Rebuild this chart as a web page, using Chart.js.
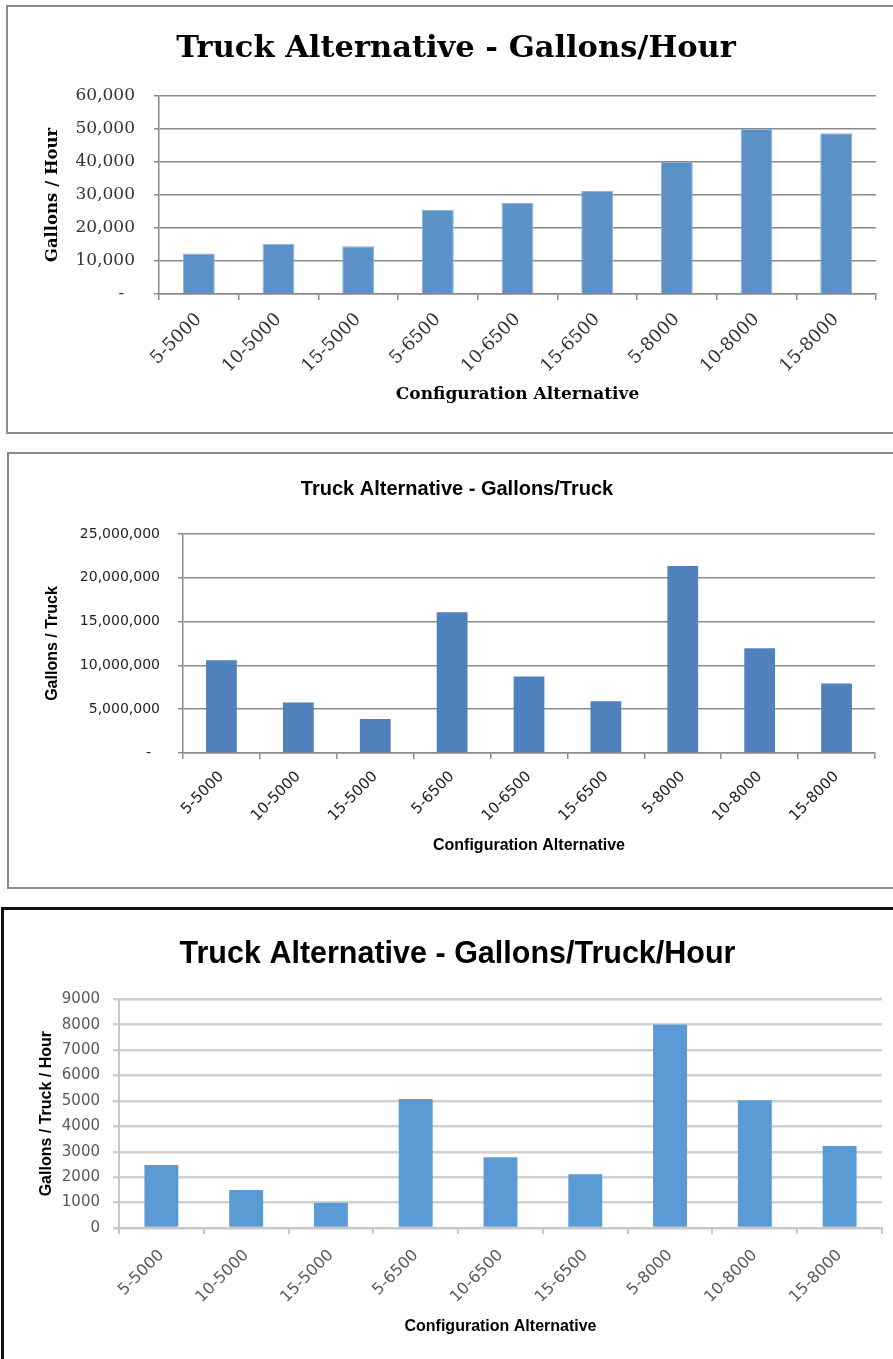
<!DOCTYPE html>
<html>
<head>
<meta charset="utf-8">
<script src="https://cdn.jsdelivr.net/npm/chart.js@4.4.1/dist/chart.umd.min.js"></script>
<style>
  html, body { margin: 0; padding: 0; background: #ffffff; width: 893px; height: 1359px; overflow: hidden; }
  .box { position: absolute; box-sizing: border-box; }
  canvas { position: absolute; left: 0; }
</style>
</head>
<body>
<div class="box" style="left:6px;top:5px;width:900px;height:429px;border:2px solid #8c8c8c;"></div>
<div class="box" style="left:7px;top:452px;width:900px;height:437px;border:2px solid #8c8c8c;"></div>
<div class="box" style="left:1px;top:907px;width:900px;height:470px;border:3px solid #111111;"></div>
<canvas id="c1" width="893" height="423" style="top:10px;"></canvas>
<canvas id="c2" width="893" height="435" style="top:453px;"></canvas>
<canvas id="c3" width="893" height="448" style="top:911px;"></canvas>
<script>
// ---- data ----
const categories = ['5-5000','10-5000','15-5000','5-6500','10-6500','15-6500','5-8000','10-8000','15-8000'];
const gallonsPerHour = [12300, 15200, 14500, 25500, 27600, 31200, 40100, 50000, 48700];
const gallonsPerTruck = [10600000, 5760000, 3890000, 16070000, 8740000, 5920000, 21340000, 11950000, 7940000];
const gallonsPerTruckHour = [2480, 1500, 990, 5080, 2780, 2120, 8010, 5030, 3230];
const titles = ['Truck Alternative - Gallons/Hour', 'Truck Alternative - Gallons/Truck', 'Truck Alternative - Gallons/Truck/Hour'];
const yTitles = ['Gallons / Hour', 'Gallons / Truck', 'Gallons / Truck / Hour'];
const xTitle = 'Configuration Alternative';
const yMax = [60000, 25000000, 9000];
const yStep = [10000, 5000000, 1000];

Chart.defaults.devicePixelRatio = 1;
Chart.defaults.animation = false;

const SANS = "'Liberation Sans', Arial, sans-serif";

function build(id, values, idx, s) {
  return new Chart(document.getElementById(id), {
    type: 'bar',
    data: {
      labels: categories,
      datasets: [{
        data: values,
        backgroundColor: s.barColor,
        borderColor: s.barBorder,
        borderWidth: s.barBorderWidth,
        categoryPercentage: 1.0,
        barPercentage: 0.4
      }]
    },
    options: {
      responsive: false,
      animation: false,
      layout: { padding: { left: s.padLeft, right: s.padRight, top: 0, bottom: 0 } },
      plugins: {
        legend: { display: false },
        tooltip: { enabled: false },
        title: {
          display: true,
          text: titles[idx],
          color: '#000000',
          font: s.titleFont,
          padding: s.titlePad
        }
      },
      scales: {
        x: {
          afterFit: (sc) => { sc.height = s.xHeight; },
          grid: { display: true, drawOnChartArea: false, drawTicks: true, tickLength: s.xTickLen, color: s.axisColor, lineWidth: s.axisWidth, offset: true },
          border: { display: true, color: s.axisColor, width: s.axisWidth },
          ticks: { autoSkip: false, maxRotation: 45, minRotation: 45, color: s.tickColor, font: s.xTickFont, padding: s.xTickPad },
          title: { display: true, text: xTitle, color: '#000000', font: s.xTitleFont, padding: { top: 0, bottom: s.xTitlePadB } }
        },
        y: {
          min: 0,
          max: yMax[idx],
          afterFit: (sc) => { sc.width = s.yRight - s.padLeft; },
          grid: { display: true, drawTicks: true, tickLength: s.yTickLen, color: s.gridColor, lineWidth: s.gridWidth },
          border: { display: true, color: s.axisColor, width: s.axisWidth },
          ticks: { stepSize: yStep[idx], color: s.tickColor, font: s.yTickFont, padding: s.yTickPad, callback: s.fmt },
          title: { display: true, text: yTitles[idx], color: '#000000', font: s.yTitleFont, padding: { top: s.yTitleX - s.padLeft - s.yTitleFont.size * 0.6, bottom: 0 } }
        }
      }
    }
  });
}

const commaFmt = (dash) => (v) => v === 0 ? dash : Number(v).toLocaleString('en-US');

// Chart 1: chartArea left 159, right 876, top 86, bottom 284 (canvas 423 high)
build('c1', gallonsPerHour, 0, {
  fmt: commaFmt('-  '),
  barColor: '#5b91c7', barBorder: '#8fb3dc', barBorderWidth: 1,
  padLeft: 36, padRight: 17,
  titleFont: { family: 'DejaVu Serif', size: 30.5, weight: 'bold', lineHeight: 1.2 },
  titlePad: { top: 21, bottom: 28.4 },
  xHeight: 139, xTickLen: 6, xTickPad: 9,
  axisColor: '#8a8a8a', axisWidth: 1.5,
  gridColor: '#8a8a8a', gridWidth: 1.5,
  tickColor: '#333333',
  xTickFont: { family: 'DejaVu Serif', size: 18 },
  yTickFont: { family: 'DejaVu Serif', size: 17 },
  xTitleFont: { family: 'DejaVu Serif', size: 17, weight: 'bold', lineHeight: 1.2 },
  xTitlePadB: 38 - 10.2,
  yRight: 159, yTickLen: 5, yTickPad: 19,
  yTitleFont: { family: 'DejaVu Serif', size: 16.5, weight: 'bold', lineHeight: 1.2 },
  yTitleX: 53
});

// Chart 2: chartArea left 183, right 875, top 81, bottom 300 (canvas 435 high)
build('c2', gallonsPerTruck, 1, {
  fmt: commaFmt('-  '),
  barColor: '#4f81bd', barBorder: '#4f81bd', barBorderWidth: 0,
  padLeft: 39, padRight: 18,
  titleFont: { family: SANS, size: 20, weight: 'bold', lineHeight: 1.2 },
  titlePad: { top: 24, bottom: 33 },
  xHeight: 135, xTickLen: 6, xTickPad: 9,
  axisColor: '#8c8c8c', axisWidth: 1.5,
  gridColor: '#8c8c8c', gridWidth: 1.5,
  tickColor: '#222222',
  xTickFont: { family: 'DejaVu Sans', size: 15 },
  yTickFont: { family: 'DejaVu Sans', size: 14 },
  xTitleFont: { family: SANS, size: 16, weight: 'bold', lineHeight: 1.2 },
  xTitlePadB: 42 - 9.6,
  yRight: 183, yTickLen: 5, yTickPad: 18,
  yTitleFont: { family: SANS, size: 16, weight: 'bold', lineHeight: 1.2 },
  yTitleX: 53
});

// Chart 3: chartArea left 119, right 882, top 88, bottom 317 (canvas 448 high)
build('c3', gallonsPerTruckHour, 2, {
  fmt: (v) => String(v),
  barColor: '#5b9bd5', barBorder: '#5b9bd5', barBorderWidth: 0,
  padLeft: 33, padRight: 11,
  titleFont: { family: SANS, size: 30.5, weight: 'bold', lineHeight: 1.2 },
  titlePad: { top: 25.7, bottom: 26 },
  xHeight: 131, xTickLen: 6, xTickPad: 12,
  axisColor: '#c8c8c8', axisWidth: 2,
  gridColor: '#d0d0d0', gridWidth: 2.5,
  tickColor: '#595959',
  xTickFont: { family: 'DejaVu Sans', size: 16 },
  yTickFont: { family: 'DejaVu Sans', size: 15 },
  xTitleFont: { family: SANS, size: 16, weight: 'bold', lineHeight: 1.2 },
  xTitlePadB: 32 - 9.6,
  yRight: 119, yTickLen: 6, yTickPad: 13,
  yTitleFont: { family: SANS, size: 16, weight: 'bold', lineHeight: 1.2 },
  yTitleX: 47
});
</script>
</body>
</html>
